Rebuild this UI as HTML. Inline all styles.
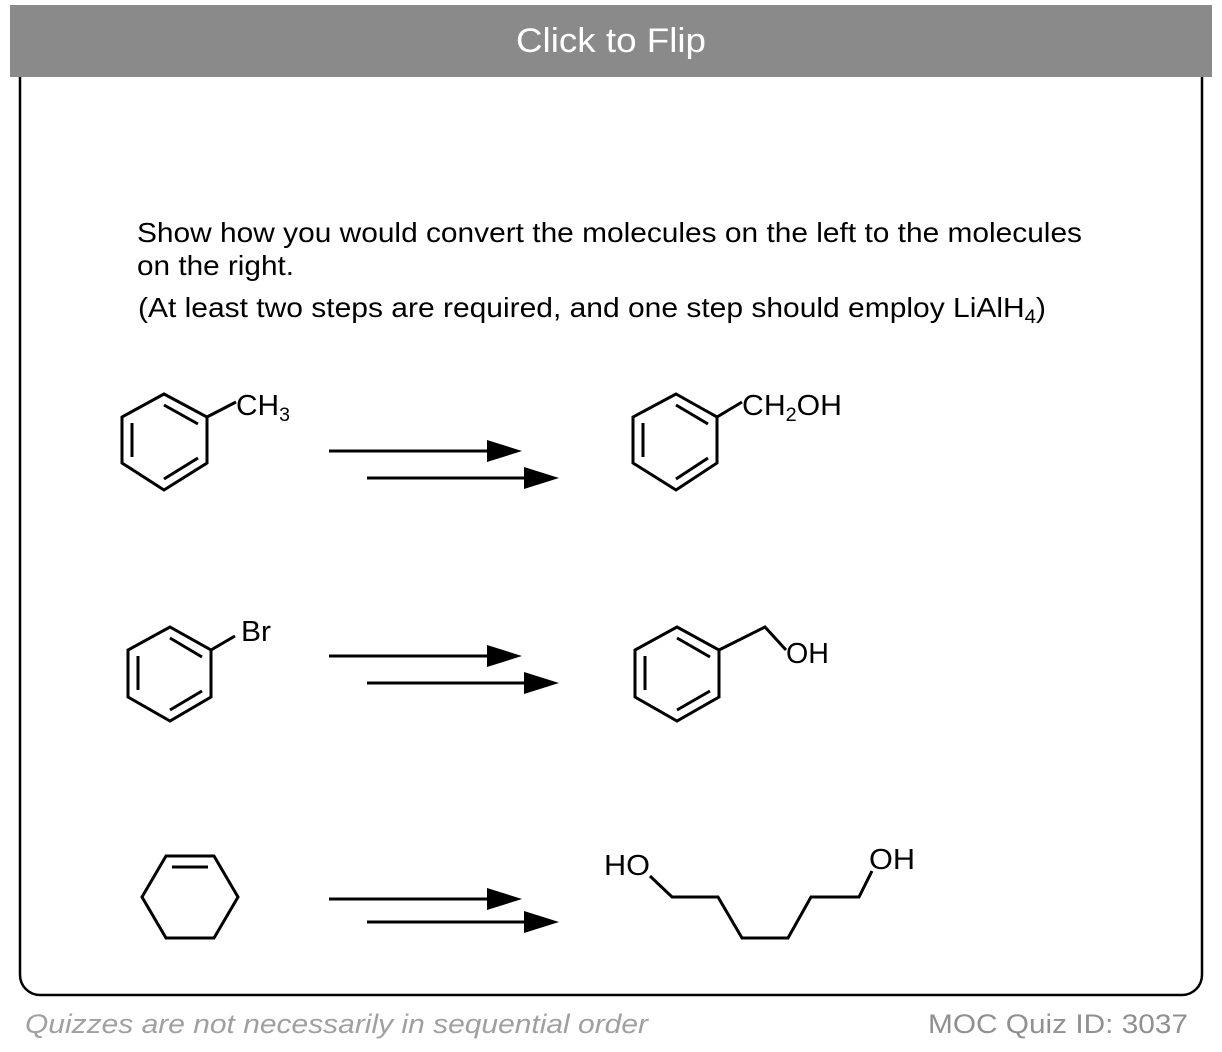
<!DOCTYPE html>
<html><head><meta charset="utf-8"><style>
html,body{margin:0;padding:0;background:#fff;}
svg{display:block;}
text{font-family:"Liberation Sans",Arial,sans-serif;}
</style></head><body>
<svg width="1222" height="1052" viewBox="0 0 1222 1052" xmlns="http://www.w3.org/2000/svg">
<rect x="20" y="14" width="1182" height="981" rx="20" ry="20" fill="#fff" stroke="#000" stroke-width="2.5"/>
<rect x="10" y="5" width="1202" height="72" fill="#8a8a8a"/>
<text x="611" y="52" text-anchor="middle" fill="#fff" font-size="34" font-weight="500" textLength="190" lengthAdjust="spacingAndGlyphs">Click to Flip</text>

<g fill="#000" font-size="28">
<text x="137" y="242" textLength="945" lengthAdjust="spacingAndGlyphs">Show how you would convert the molecules on the left to the molecules</text>
<text x="137" y="275" textLength="157" lengthAdjust="spacingAndGlyphs">on the right.</text>
<text x="138" y="317" textLength="908" lengthAdjust="spacingAndGlyphs">(At least two steps are required, and one step should employ LiAlH<tspan font-size="19" dy="6">4</tspan><tspan dy="-6">)</tspan></text>
</g>

<g stroke="#000" stroke-width="3" fill="none" stroke-linejoin="miter">
<polygon points="164,394 207,417 207,463 164,490 122,463 122,417"/>
<line x1="164" y1="405" x2="198" y2="424"/><line x1="198" y1="458" x2="164" y2="479"/><line x1="132" y1="423" x2="132" y2="457"/>
<line x1="207" y1="417" x2="236" y2="402"/>
<polygon points="676,394 717,417 717,463 676,490 633,463 633,417"/>
<line x1="676" y1="405" x2="708" y2="424"/><line x1="708" y1="458" x2="676" y2="479"/><line x1="643" y1="423" x2="643" y2="457"/>
<line x1="717" y1="417" x2="742" y2="402"/>
<polygon points="170,627 211,650 211,697 170,721 128,697 128,650"/>
<line x1="170" y1="638" x2="202" y2="657"/><line x1="202" y1="691" x2="170" y2="710"/><line x1="138" y1="656" x2="138" y2="690"/>
<line x1="211" y1="650" x2="235" y2="636"/>
<polygon points="677,627 719,650 719,697 677,721 635,697 635,650"/>
<line x1="677" y1="638" x2="710" y2="657"/><line x1="710" y1="691" x2="677" y2="710"/><line x1="645" y1="656" x2="645" y2="690"/>
<polyline points="719,650 765,627 786,650"/>
<polygon points="166,856 214,856 238,897 214,938 166,938 142,897"/>
<line x1="172" y1="867" x2="208" y2="867"/>
<polyline points="650,876 672,897 718,897 742,938 788,938 811,897 859,897 872,871"/>
<line x1="329" y1="451" x2="500" y2="451"/><line x1="367" y1="478" x2="537" y2="478"/>
<line x1="329" y1="656" x2="500" y2="656"/><line x1="367" y1="683" x2="537" y2="683"/>
<line x1="329" y1="899" x2="500" y2="899"/><line x1="367" y1="922" x2="537" y2="922"/>
</g>
<g fill="#000">
<polygon points="487,440 522,451 487,462"/><polygon points="524,467 559,478 524,489"/>
<polygon points="487,645 522,656 487,667"/><polygon points="524,672 559,683 524,694"/>
<polygon points="487,888 522,899 487,910"/><polygon points="524,911 559,922 524,933"/>
</g>
<g fill="#000" font-size="29">
<text x="236" y="415" textLength="54" lengthAdjust="spacingAndGlyphs">CH<tspan font-size="19" dy="6">3</tspan></text>
<text x="742" y="415" textLength="100" lengthAdjust="spacingAndGlyphs">CH<tspan font-size="19" dy="6">2</tspan><tspan dy="-6">OH</tspan></text>
<text x="241" y="641" textLength="30" lengthAdjust="spacingAndGlyphs">Br</text>
<text x="786" y="663" textLength="43" lengthAdjust="spacingAndGlyphs">OH</text>
<text x="604" y="875" textLength="46" lengthAdjust="spacingAndGlyphs">HO</text>
<text x="869" y="869" textLength="46" lengthAdjust="spacingAndGlyphs">OH</text>
</g>
<text x="25" y="1033" fill="#a0a0a0" font-size="27" font-style="italic" textLength="623" lengthAdjust="spacingAndGlyphs">Quizzes are not necessarily in sequential order</text>
<text x="928" y="1033" fill="#909090" font-size="27" textLength="260" lengthAdjust="spacingAndGlyphs">MOC Quiz ID: 3037</text>
</svg>
</body></html>
